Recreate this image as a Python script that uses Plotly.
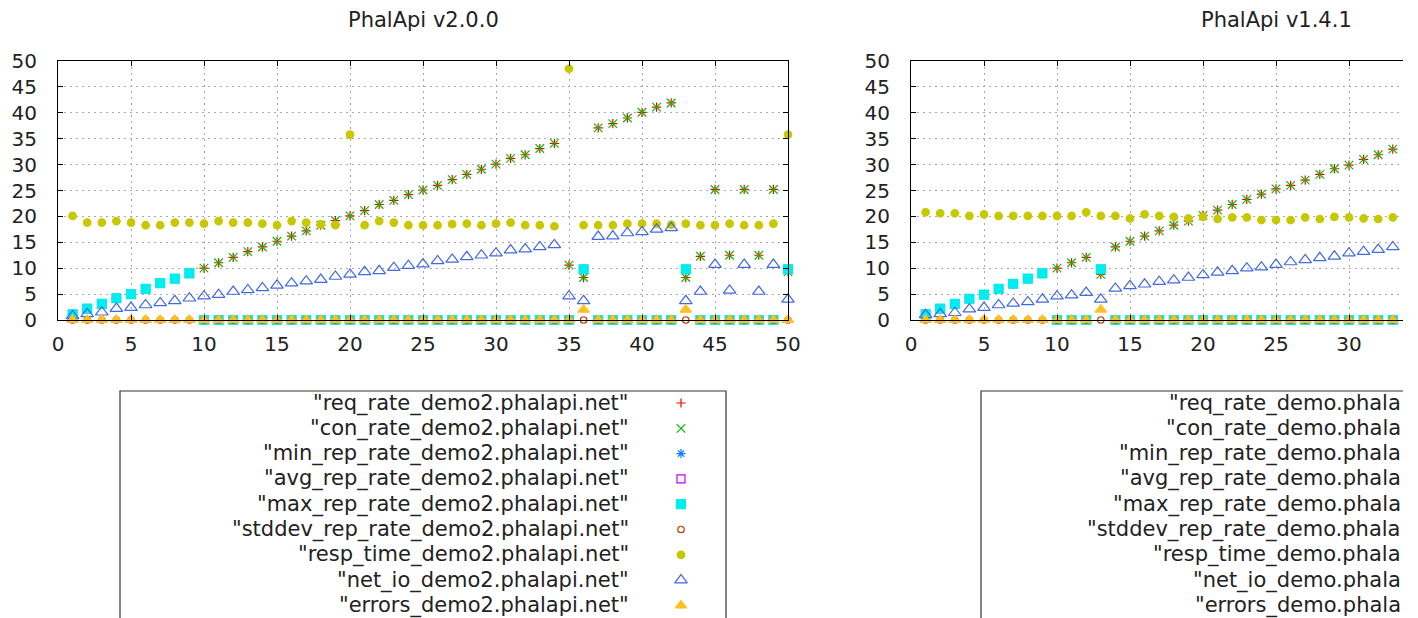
import plotly.graph_objects as go

# ---------------- data ----------------
metrics = ["req_rate", "con_rate", "min_rep_rate", "avg_rep_rate", "max_rep_rate",
           "stddev_rep_rate", "resp_time", "net_io", "errors"]

x_v2 = list(range(1, 51))
req_v2 = [1.1, 2.2, 3.1, 4.2, 5.0, 6.0, 7.1, 8.0, 9.0,
          10.0, 11.05, 12.1, 13.2, 14.1, 15.2, 16.2, 17.2, 18.3, 19.2, 20.1, 21.1, 22.3, 23.1, 24.2,
          25.1, 26.0, 27.1, 28.1, 29.1, 30.1, 31.2, 31.9, 33.1, 34.1,
          10.6, 8.2, 37.1, 37.9, 39.0, 40.1, 41.1, 41.9, 8.2, 12.3, 25.2, 12.5, 25.2, 12.5, 25.2, 9.3]
con_v2 = [1.1, 2.2, 3.1, 4.2, 5.0, 6.0, 7.1, 8.0, 9.0,
          10.0, 11.05, 12.1, 13.2, 14.1, 15.2, 16.2, 17.2, 18.3, 19.2, 20.1, 21.1, 22.3, 23.1, 24.2,
          25.1, 26.0, 27.1, 28.1, 29.1, 30.1, 31.2, 31.9, 33.1, 34.1,
          10.6, 8.2, 37.1, 37.9, 39.0, 40.1, 41.1, 41.9, 8.2, 12.3, 25.2, 12.5, 25.2, 12.5, 25.2, 9.3]
max_v2 = [1.1, 2.2, 3.1, 4.2, 5.0, 6.0, 7.1, 8.0, 9.0,
          0, 0, 0, 0, 0, 0, 0, 0, 0, 0, 0, 0, 0, 0, 0,
          0, 0, 0, 0, 0, 0, 0, 0, 0, 0,
          0, 9.8, 0, 0, 0, 0, 0, 0, 9.8, 0, 0, 0, 0, 0, 0, 9.8]
min_v2 = list(max_v2)
avg_v2 = list(max_v2)
stddev_v2 = [0] * 50
resp_v2 = [20.1, 18.8, 18.8, 19.1, 18.8, 18.3, 18.3, 18.8, 18.8, 18.6, 19.1, 18.8, 18.8, 18.6, 18.3,
           19.1, 18.8, 18.5, 18.3, 35.8, 18.3, 19.1, 18.8, 18.3,
           18.3, 18.3, 18.5, 18.6, 18.3, 18.6, 18.8, 18.3, 18.3, 18.1,
           48.5, 18.3, 18.3, 18.3, 18.6, 18.6, 18.6, 18.4, 18.6, 18.3, 18.3, 18.6, 18.3, 18.3, 18.6, 35.8]
net_v2 = [0.8, 1.2, 1.5, 2.2, 2.4, 2.9, 3.3, 3.7, 4.2, 4.6, 4.9, 5.5, 5.8, 6.2, 6.7, 7.1, 7.5, 7.8,
          8.4, 8.8, 9.3, 9.5, 10.1, 10.5,
          10.8, 11.4, 11.7, 12.2, 12.5, 12.9, 13.5, 13.7, 14.1, 14.5,
          4.6, 3.7, 16.1, 16.2, 16.8, 17.0, 17.5, 17.8, 3.7, 5.5, 10.7, 5.7, 10.7, 5.5, 10.7, 4.0]
errors_v2 = [0] * 35 + [2] + [0] * 6 + [2] + [0] * 7

x_v1 = list(range(1, 34))
req_v1 = [1.1, 2.2, 3.1, 4.1, 4.9, 6.0, 7.0, 8.0, 9.0, 10.0, 11.05, 12.1, 8.8, 14.1, 15.2, 16.2,
          17.2, 18.3, 19.1, 20.2, 21.2, 22.3, 23.3, 24.3, 25.3, 26.0, 27.0, 28.1, 29.2, 29.9,
          31.0, 31.9, 33.0]
con_v1 = [1.1, 2.2, 3.1, 4.1, 4.9, 6.0, 7.0, 8.0, 9.0, 10.0, 11.05, 12.1, 8.8, 14.1, 15.2, 16.2,
          17.2, 18.3, 19.1, 20.2, 21.2, 22.3, 23.3, 24.3, 25.3, 26.0, 27.0, 28.1, 29.2, 29.9,
          31.0, 31.9, 33.0]
max_v1 = [1.1, 2.2, 3.1, 4.1, 4.9, 6.0, 7.0, 8.0, 9.0, 0, 0, 0, 9.8] + [0] * 20
min_v1 = list(max_v1)
avg_v1 = list(max_v1)
stddev_v1 = [0] * 33
resp_v1 = [20.8, 20.6, 20.6, 20.1, 20.4, 20.1, 20.1, 20.1, 20.1, 20.1, 20.1, 20.8, 20.1, 20.1,
           19.6, 20.4, 20.1, 19.9, 19.6, 19.9, 19.5, 19.8, 19.8, 19.3, 19.3, 19.3, 19.8, 19.5,
           19.9, 19.8, 19.6, 19.5, 19.8]
net_v1 = [1.0, 1.2, 1.4, 2.1, 2.4, 2.9, 3.2, 3.5, 4.0, 4.6, 4.8, 5.3, 4.0, 6.1, 6.6, 6.9, 7.4,
          7.7, 8.2, 8.7, 9.2, 9.5, 10.0, 10.2, 10.7, 11.2, 11.6, 12.0, 12.3, 12.9, 13.2, 13.6, 14.1]
errors_v1 = [0] * 12 + [2] + [0] * 20

titles = ["PhalApi v2.0.0", "PhalApi v1.4.1"]
hosts = ["demo2.phalapi.net", "demo.phalapi.net"]
tick_vals = [0, 5, 10, 15, 20, 25, 30, 35, 40, 45, 50]

# ---------------- style ----------------
colors = ["#ff0000", "#00c000", "#0080ff", "#c000ff", "#00eeee",
          "#c04000", "#c8c800", "#4169e1", "#ffc020"]
symbols = ["cross-thin-open", "x-thin-open", "asterisk-open", "square-open", "square",
           "circle-open", "circle", "triangle-up-open", "triangle-up"]
sizes = [6.6, 8.5, 7.5, 8, 9, 6.5, 7.5, 11, 10]

W, H = 1418, 618
VIS_W = 1403          # the picture is blank right of this column
FONT = "DejaVu Sans"
TXT = "#222222"


def px(xp):
    return xp / W


def py(yp):
    return 1 - yp / H


def marker(i):
    return dict(symbol=symbols[i], size=sizes[i], color=colors[i],
                line=dict(color=colors[i], width=1.2))


fig = go.Figure()

sets = [
    (x_v2, [req_v2, con_v2, min_v2, avg_v2, max_v2, stddev_v2, resp_v2, net_v2, errors_v2], "x", "y"),
    (x_v1, [req_v1, con_v1, min_v1, avg_v1, max_v1, stddev_v1, resp_v1, net_v1, errors_v1], "x2", "y2"),
]
for k, (xs, series, xa, ya) in enumerate(sets):
    for i, ys in enumerate(series):
        fig.add_trace(go.Scatter(x=xs, y=ys, mode="markers", marker=marker(i),
                                 xaxis=xa, yaxis=ya, cliponaxis=False, showlegend=False,
                                 name=f"{metrics[i]}_{hosts[k]}"))

# plot geometry (pixels)
PLOT_W = 730
LEFTS = [58, 911]
TOP, BOT = 61, 320
PX_PER_UNIT = PLOT_W / 50

axis_common = dict(
    showline=True, linecolor="black", linewidth=1,
    ticks="inside", ticklen=5, tickcolor="black", tickwidth=1,
    showgrid=True, gridcolor="#a8a8a8", gridwidth=1, griddash="2px,4px",
    zeroline=False, tickfont=dict(family=FONT, size=20, color=TXT),
    tickvals=tick_vals, fixedrange=True, automargin=False,
)

fig.update_layout(
    template="none",
    xaxis=dict(domain=[px(LEFTS[0]), px(LEFTS[0] + PLOT_W)], range=[0, 50], anchor="y",
               mirror="ticks", ticklabelstandoff=6, **axis_common),
    yaxis=dict(domain=[py(BOT), py(TOP)], range=[0, 50], anchor="x",
               mirror="ticks", ticklabelstandoff=16, **axis_common),
    xaxis2=dict(domain=[px(LEFTS[1]), px(VIS_W)], range=[0, (VIS_W - LEFTS[1]) / PX_PER_UNIT],
                anchor="y2", mirror="ticks", ticklabelstandoff=6, **axis_common),
    yaxis2=dict(domain=[py(BOT), py(TOP)], range=[0, 50], anchor="x2",
                mirror=False, ticklabelstandoff=16, **axis_common),
    xaxis3=dict(domain=[0, 1], range=[0, W], visible=False, anchor="y3",
                fixedrange=True, automargin=False),
    yaxis3=dict(domain=[0, 1], range=[H, 0], visible=False, anchor="x3",
                fixedrange=True, automargin=False),
)

# ---------------- titles ----------------
annotations = []
for k in range(2):
    cx = LEFTS[k] + PLOT_W / 2
    annotations.append(dict(text=titles[k], x=px(cx), y=py(20), xref="paper", yref="paper",
                            xanchor="center", yanchor="middle", showarrow=False,
                            font=dict(family=FONT, size=21, color=TXT)))

# ---------------- custom gnuplot-style keys ----------------
KEY_TOP = 391
ROW0 = 403
ROW_H = 25.3
key_boxes = [(120, 726), (981, VIS_W)]
text_right = [631, 1403]
sym_x = 681

shapes = []
for k in range(2):
    x0, x1 = key_boxes[k]
    if k == 0:
        path = (f"M {px(x0)},{py(H)} L {px(x0)},{py(KEY_TOP)} "
                f"L {px(x1)},{py(KEY_TOP)} L {px(x1)},{py(H)}")
    else:
        path = f"M {px(x0)},{py(H)} L {px(x0)},{py(KEY_TOP)} L {px(x1)},{py(KEY_TOP)}"
    shapes.append(dict(type="path", xref="paper", yref="paper", path=path,
                       line=dict(color="#333333", width=1.2)))
    for i, m in enumerate(metrics):
        label = f'"{m}_{hosts[k]}"'
        if k == 1:
            # the right-hand key runs off the edge of the picture: only its visible part is shown
            label = label[:label.index("phala") + 5]
        yrow = ROW0 + i * ROW_H
        annotations.append(dict(text=label, x=px(text_right[k]), y=py(yrow),
                                xref="paper", yref="paper", xanchor="right", yanchor="middle",
                                showarrow=False,
                                font=dict(family=FONT, size=21, color=TXT)))

for i, m in enumerate(metrics):
    fig.add_trace(go.Scatter(x=[sym_x], y=[ROW0 + i * ROW_H], mode="markers", marker=marker(i),
                             xaxis="x3", yaxis="y3", cliponaxis=False, showlegend=False,
                             hoverinfo="skip"))

fig.update_layout(
    width=W, height=H, margin=dict(l=0, r=0, t=0, b=0, pad=0), autosize=False,
    paper_bgcolor="white", plot_bgcolor="rgba(0,0,0,0)",
    showlegend=False, annotations=annotations, shapes=shapes,
    font=dict(family=FONT, color=TXT),
)

fig.write_html("out.html", config={"displayModeBar": False},
               post_script="document.body.style.margin='0';document.body.style.overflow='hidden';")
